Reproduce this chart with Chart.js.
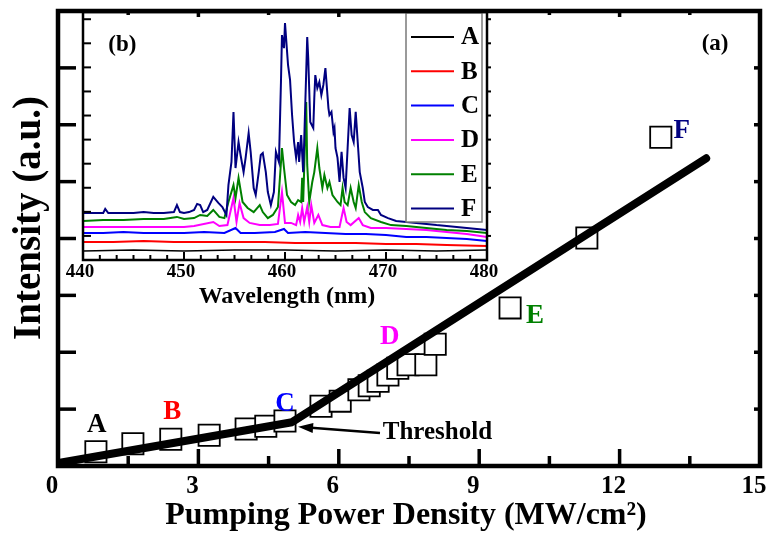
<!DOCTYPE html>
<html>
<head>
<meta charset="utf-8">
<script src="https://cdn.jsdelivr.net/npm/chart.js@4.4.1/dist/chart.umd.min.js"></script>
<style>
  html, body { margin: 0; padding: 0; background: #fff; }
  #wrap { position: relative; width: 769px; height: 536px; }
  #main-chart { position: absolute; left: 0; top: 0; }
  #inset-chart { position: absolute; left: 60px; top: 10px; }
</style>
</head>
<body>
<div id="wrap">
  <canvas id="main-chart" width="769" height="536"></canvas>
  <canvas id="inset-chart" width="440" height="300"></canvas>
</div>
<script>
// (a) intensity vs pumping power density
const powerDensity = [0.81, 1.60, 2.41, 3.23, 4.02, 4.44, 4.85, 5.62, 6.03, 6.43, 6.65, 6.84, 7.05, 7.26, 7.48, 7.86, 8.06, 9.66, 11.30, 12.88];
const intensity    = [0.25, 0.39, 0.47, 0.54, 0.65, 0.70, 0.79, 1.05, 1.14, 1.34, 1.41, 1.49, 1.60, 1.72, 1.78, 1.78, 2.14, 2.78, 4.01, 5.78];
const fitPower     = [0, 5.0, 13.85];
const fitIntensity = [0.05, 0.77, 5.41];
const powerTicks   = [0, 3, 6, 9, 12, 15];

// (b) emission spectra A..F
const waveA = [440, 445, 450, 455, 460, 465, 470, 475, 480];
const intA  = [0.37, 0.42, 0.37, 0.42, 0.42, 0.37, 0.42, 0.37, 0.42];
const waveB = [440, 443, 446, 449, 452, 455, 458, 461, 464, 467, 470, 473, 476, 480];
const intB  = [0.75, 0.75, 0.79, 0.75, 0.75, 0.75, 0.75, 0.71, 0.71, 0.71, 0.66, 0.66, 0.62, 0.58];
const waveC = [440, 442, 444, 446, 448, 450, 452, 454, 455.1, 455.6, 457, 459, 459.9, 460.3, 462, 464, 466, 468, 470, 472, 474, 476, 478, 480];
const intC  = [1.12, 1.12, 1.16, 1.12, 1.12, 1.12, 1.16, 1.12, 1.33, 1.12, 1.12, 1.16, 1.29, 1.12, 1.16, 1.12, 1.08, 1.08, 1.04, 0.96, 0.96, 0.91, 0.87, 0.79];
const waveD = [440, 442, 444, 446, 448, 450, 451, 452.9, 453.5, 454.3, 454.9, 455.2, 455.5, 455.9, 456.5, 457.5, 458.5, 459.3, 459.7, 460.0,
               460.6, 461.1, 461.3, 461.5, 461.7, 461.9, 462.2, 462.4, 462.6, 462.9, 463.3, 463.7, 464.5, 465.4, 465.8, 466.1, 466.5, 467.3, 467.7, 468.5,
               470, 472, 474, 476, 478, 480];
const intD  = [1.37, 1.37, 1.37, 1.37, 1.37, 1.37, 1.41, 1.58, 1.41, 1.45, 2.57, 1.58, 2.37, 1.74, 1.54, 1.45, 1.45, 1.50, 2.82, 1.54,
               1.54, 1.45, 1.87, 1.58, 2.16, 1.58, 2.20, 1.58, 2.28, 1.54, 1.87, 1.45, 1.37, 1.37, 2.16, 1.58, 1.45, 1.74, 1.45, 1.33,
               1.33, 1.29, 1.25, 1.16, 1.08, 0.96];
const waveE = [440, 442, 444, 446, 448, 449.3, 450, 451, 451.6, 452.3, 452.9, 453.5, 454.0, 454.4, 454.9, 455.1, 455.4, 455.8, 456.3, 456.9,
               457.5, 457.8, 458.3, 458.8, 459.3, 459.7, 459.9, 460.2, 460.6, 461.0, 461.3, 461.6, 461.7, 461.8, 462.1, 462.2, 462.4, 462.7, 462.9, 463.2,
               463.4, 463.7, 463.9, 464.2, 464.4, 464.7, 465.2, 465.5, 465.7, 465.9, 466.2, 466.5, 466.8, 467.0, 467.3, 467.6, 467.9, 468.5, 469.5, 470.5,
               472, 474, 476, 478, 480];
const intE  = [1.62, 1.66, 1.66, 1.70, 1.70, 1.79, 1.70, 1.74, 1.87, 1.83, 2.08, 1.79, 1.74, 2.41, 3.11, 2.57, 3.41, 2.41, 2.16, 1.99,
               2.28, 1.99, 1.74, 1.87, 2.20, 4.65, 3.82, 2.70, 2.41, 2.28, 2.49, 2.41, 3.41, 2.41, 6.56, 3.95, 2.41, 3.24, 3.65, 4.65,
               3.82, 2.99, 3.53, 2.99, 3.24, 2.70, 2.41, 2.28, 2.99, 2.41, 2.28, 2.99, 2.41, 2.16, 3.11, 2.41, 1.99, 1.74, 1.58, 1.45,
               1.41, 1.33, 1.25, 1.20, 1.12];
const waveF = [440, 441, 442, 442.2, 442.5, 443, 444, 445, 446, 447, 448, 449, 449.3, 449.6, 450, 450.5, 451, 451.3, 451.6, 451.9,
               452.3, 452.9, 453.4, 453.8, 454.2, 454.4, 454.7, 454.9, 455.1, 455.4, 455.6, 455.9, 456.1, 456.4, 456.6, 456.9, 457.1, 457.4, 457.6, 457.8,
               458.1, 458.3, 458.6, 458.9, 459.1, 459.4, 459.6, 459.7, 459.9, 460.0, 460.3, 460.5, 460.7, 460.9, 461.1, 461.3, 461.4, 461.6, 461.8, 461.9,
               462.1, 462.2, 462.3, 462.5, 462.8, 462.9, 463.0, 463.2, 463.4, 463.6, 463.8, 464.0, 464.3, 464.4, 464.6, 464.8, 464.9, 465.0, 465.2, 465.4,
               465.6, 465.8, 466.0, 466.2, 466.4, 466.6, 466.8, 467.0, 467.2, 467.4, 467.7, 467.9, 468.2, 468.7, 469.2, 469.5, 470.2, 471, 472, 473,
               474, 475, 476, 477, 478, 479, 480];
const intF  = [1.95, 1.95, 1.95, 2.12, 1.95, 1.95, 1.95, 1.95, 1.99, 1.95, 1.95, 1.99, 2.28, 1.99, 1.95, 1.99, 2.08, 2.33, 2.28, 1.99,
               2.08, 2.62, 2.37, 2.20, 1.87, 3.11, 4.07, 6.15, 3.82, 4.90, 4.36, 3.65, 4.24, 5.27, 4.49, 2.99, 2.70, 3.65, 4.36, 4.44,
               3.65, 2.82, 2.28, 2.82, 4.49, 4.07, 7.39, 9.34, 8.80, 9.84, 8.10, 7.48, 6.02, 4.90, 4.24, 4.90, 4.07, 5.19, 3.65, 4.90,
               7.81, 9.26, 8.39, 5.73, 5.48, 6.73, 7.68, 7.14, 7.39, 6.85, 7.27, 7.97, 6.31, 6.02, 6.15, 5.32, 5.48, 4.65, 4.24, 3.24,
               4.49, 3.41, 2.99, 4.65, 6.31, 5.19, 4.90, 6.15, 4.90, 3.65, 2.99, 2.41, 2.20, 2.08, 2.08, 1.87, 1.74, 1.62, 1.58, 1.54,
               1.50, 1.45, 1.41, 1.37, 1.33, 1.29, 1.25];
const wavelengthTicks = [440, 450, 460, 470, 480];

const serif = '"Liberation Serif", "Times New Roman", serif';

function pairs(xs, ys) {
    return xs.map((v, i) => ({x: v, y: ys[i]}));
}

function stroke(ctx, x1, y1, x2, y2) {
    ctx.beginPath();
    ctx.moveTo(x1, y1);
    ctx.lineTo(x2, y2);
    ctx.stroke();
}

// frame, inward ticks, tick labels, point letters and titles for (a)
const mainDecor = {
    id: 'mainDecor',
    afterDraw(chart, args, opts) {
        const {ctx, chartArea: a, scales: {x, y}} = chart;
        ctx.save();
        ctx.strokeStyle = '#000';
        ctx.lineWidth = 3.5;
        for (let k = 0; k <= 10; k++) {
            const px = x.getPixelForValue(k * 1.5);
            const major = k % 2 === 0;
            stroke(ctx, px, a.bottom, px, a.bottom - (major ? 17 : 10));
            stroke(ctx, px, a.top, px, a.top + (major ? 6 : 4));
        }
        for (let v = 1; v < 8; v++) {
            const py = y.getPixelForValue(v);
            stroke(ctx, a.left, py, a.left + 18, py);
            stroke(ctx, a.right, py, a.right - 6, py);
        }
        ctx.lineWidth = 4.5;
        ctx.strokeRect(a.left, a.top, a.right - a.left, a.bottom - a.top);

        ctx.fillStyle = '#000';
        ctx.textAlign = 'center';
        ctx.textBaseline = 'middle';
        ctx.font = 'bold 25px ' + serif;
        powerTicks.forEach(v => ctx.fillText(String(v), x.getPixelForValue(v) - 6, a.bottom + 21));

        ctx.font = 'bold 27px ' + serif;
        opts.labels.forEach(l => {
            ctx.fillStyle = l.color;
            ctx.fillText(l.text, x.getPixelForValue(l.x), y.getPixelForValue(l.y));
        });
        ctx.fillStyle = '#000';
        ctx.font = 'bold 23px ' + serif;
        ctx.fillText('(a)', x.getPixelForValue(14.04), y.getPixelForValue(7.42));

        // threshold arrow
        const ax1 = x.getPixelForValue(6.88), ay1 = y.getPixelForValue(0.58);
        const ax2 = x.getPixelForValue(5.13), ay2 = y.getPixelForValue(0.69);
        const ang = Math.atan2(ay2 - ay1, ax2 - ax1);
        ctx.lineWidth = 2.5;
        stroke(ctx, ax1, ay1, ax2 - 10 * Math.cos(ang), ay2 - 10 * Math.sin(ang));
        ctx.beginPath();
        ctx.moveTo(ax2, ay2);
        ctx.lineTo(ax2 - 15 * Math.cos(ang) + 5 * Math.sin(ang), ay2 - 15 * Math.sin(ang) - 5 * Math.cos(ang));
        ctx.lineTo(ax2 - 15 * Math.cos(ang) - 5 * Math.sin(ang), ay2 - 15 * Math.sin(ang) + 5 * Math.cos(ang));
        ctx.closePath();
        ctx.fill();
        ctx.textAlign = 'left';
        ctx.font = 'bold 25px ' + serif;
        ctx.fillText('Threshold', x.getPixelForValue(6.94), y.getPixelForValue(0.58));

        // axis titles
        ctx.textAlign = 'center';
        ctx.font = 'bold 32px ' + serif;
        ctx.fillText('Pumping Power Density (MW/cm\u00B2)', (a.left + a.right) / 2 - 3, 516);
        ctx.translate(30, 218);
        ctx.rotate(-Math.PI / 2);
        ctx.font = 'bold 39px ' + serif;
        ctx.fillText('Intensity (a.u.)', 0, 0);
        ctx.restore();
    }
};

new Chart(document.getElementById('main-chart').getContext('2d'), {
    type: 'scatter',
    data: {
        datasets: [
            {
                label: 'fit',
                data: pairs(fitPower, fitIntensity),
                showLine: true,
                borderColor: '#000',
                borderWidth: 8,
                borderCapStyle: 'round',
                borderJoinStyle: 'round',
                pointRadius: 0,
                order: 0
            },
            {
                label: 'measured',
                data: pairs(powerDensity, intensity),
                pointStyle: 'rect',
                pointRadius: 15,
                backgroundColor: '#fff',
                borderColor: '#000',
                borderWidth: 1.8,
                order: 1
            }
        ]
    },
    options: {
        responsive: false,
        animation: false,
        devicePixelRatio: 1,
        events: [],
        layout: {autoPadding: false, padding: {top: 11, right: 9, left: 58, bottom: 70}},
        scales: {
            x: {min: 0, max: 15, display: false},
            y: {min: 0, max: 8, display: false}
        },
        plugins: {
            legend: {display: false},
            tooltip: {enabled: false},
            mainDecor: {
                labels: [
                    {text: 'A', color: '#000000', x: 0.83, y: 0.72},
                    {text: 'B', color: '#ff0000', x: 2.44, y: 0.95},
                    {text: 'C', color: '#0000ff', x: 4.85, y: 1.09},
                    {text: 'D', color: '#ff00ff', x: 7.09, y: 2.27},
                    {text: 'E', color: '#008000', x: 10.19, y: 2.64},
                    {text: 'F', color: '#000080', x: 13.33, y: 5.89}
                ]
            }
        }
    },
    plugins: [mainDecor]
});

// (b) inset: frame, ticks, legend box, titles
const insetDecor = {
    id: 'insetDecor',
    afterDraw(chart) {
        const {ctx, chartArea: a, scales: {x, y}} = chart;
        ctx.save();
        ctx.strokeStyle = '#000';
        ctx.lineWidth = 2;
        for (let k = 0; k <= 24; k++) {
            const px = x.getPixelForValue(440 + k * 10 / 6);
            stroke(ctx, px, a.bottom, px, a.bottom - (k % 6 === 0 ? 8 : 5));
        }
        for (let v = 1; v <= 10; v++) {
            const py = y.getPixelForValue(v);
            stroke(ctx, a.left, py, a.left + 8, py);
            stroke(ctx, a.right, py, a.right + 4, py);
        }

        // legend
        const bx = a.right - 81, by = a.top + 1, bw = 76, bh = 209;
        ctx.fillStyle = '#fff';
        ctx.fillRect(bx, by, bw, bh);
        ctx.strokeStyle = '#7a7a7a';
        ctx.lineWidth = 1.5;
        ctx.strokeRect(bx, by, bw, bh);
        ctx.font = 'bold 25px ' + serif;
        ctx.textAlign = 'left';
        ctx.textBaseline = 'middle';
        chart.data.datasets.forEach((ds, i) => {
            const ry = by + 24 + i * 34.3;
            ctx.strokeStyle = ds.borderColor;
            ctx.lineWidth = 2;
            stroke(ctx, bx + 5, ry, bx + 48, ry);
            ctx.fillStyle = '#000';
            ctx.fillText(ds.label, bx + 55, ry + 1);
        });

        ctx.strokeStyle = '#000';
        ctx.lineWidth = 2.5;
        ctx.strokeRect(a.left, a.top, a.right - a.left, a.bottom - a.top);

        ctx.fillStyle = '#000';
        ctx.textAlign = 'center';
        ctx.font = 'bold 19px ' + serif;
        wavelengthTicks.forEach(v => ctx.fillText(String(v), x.getPixelForValue(v) - 3, a.bottom + 12));
        ctx.font = 'bold 23px ' + serif;
        ctx.fillText('(b)', x.getPixelForValue(443.9), y.getPixelForValue(8.93));
        ctx.font = 'bold 24px ' + serif;
        ctx.fillText('Wavelength (nm)', (a.left + a.right) / 2 + 2, 287);
        ctx.restore();
    }
};

const spectra = [
    {label: 'A', xs: waveA, ys: intA, color: '#000000'},
    {label: 'B', xs: waveB, ys: intB, color: '#ff0000'},
    {label: 'C', xs: waveC, ys: intC, color: '#0000ff'},
    {label: 'D', xs: waveD, ys: intD, color: '#ff00ff'},
    {label: 'E', xs: waveE, ys: intE, color: '#008000'},
    {label: 'F', xs: waveF, ys: intF, color: '#000080'}
];

new Chart(document.getElementById('inset-chart').getContext('2d'), {
    type: 'scatter',
    data: {
        datasets: spectra.map((s, i) => ({
            label: s.label,
            data: pairs(s.xs, s.ys),
            showLine: true,
            borderColor: s.color,
            borderWidth: s.label === 'A' ? 1.5 : 2,
            pointRadius: 0,
            order: spectra.length - i
        }))
    },
    options: {
        responsive: false,
        animation: false,
        devicePixelRatio: 1,
        events: [],
        layout: {autoPadding: false, padding: {top: 2, right: 13, left: 23, bottom: 50}},
        scales: {
            x: {min: 440, max: 480, display: false},
            y: {min: 0, max: 10.3, display: false}
        },
        plugins: {
            legend: {display: false},
            tooltip: {enabled: false}
        }
    },
    plugins: [insetDecor]
});
</script>
</body>
</html>
